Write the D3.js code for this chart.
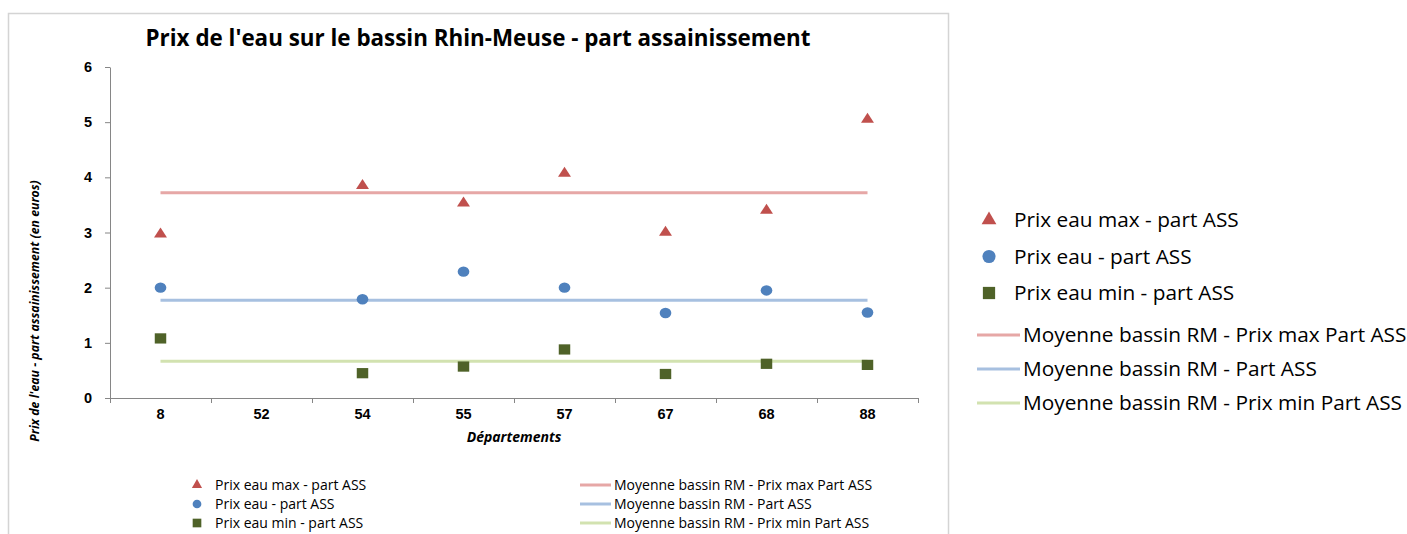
<!DOCTYPE html>
<html>
<head>
<meta charset="utf-8">
<script src="https://cdn.jsdelivr.net/npm/d3@7"></script>
<style>
  body { margin: 0; background: #fff; }
  svg { font-family: "Open Sans", "Liberation Sans", sans-serif; }
  .axis path, .axis line { stroke: #868686; }
  .axis text { font-weight: bold; font-size: 14.5px; fill: #000; }
</style>
</head>
<body>
<script>
//departements on the x axis
var departements = ["8", "52", "54", "55", "57", "67", "68", "88"];
//series values (null = no value for 52)
var prixMax = [2.97, null, 3.85, 3.53, 4.07, 3.0, 3.4, 5.05];
var prixEau = [2.0, null, 1.79, 2.29, 2.0, 1.54, 1.95, 1.55];
var prixMin = [1.08, null, 0.45, 0.57, 0.88, 0.435, 0.62, 0.6];
//basin averages
var moyenneMax = 3.72,
    moyenneEau = 1.77,
    moyenneMin = 0.665;
var yTicks = [0, 1, 2, 3, 4, 5, 6];

var pointNames = ["Prix eau max - part ASS", "Prix eau - part ASS", "Prix eau min - part ASS"];
var lineNames = ["Moyenne bassin RM - Prix max Part ASS", "Moyenne bassin RM - Part ASS", "Moyenne bassin RM - Prix min Part ASS"];

var markerColors = ["#C0504D", "#4F81BD", "#4F6228"];
var lineColors = ["#E6A7A6", "#A7C0E0", "#D2E2B0"];
var symbols = [d3.symbolTriangle, d3.symbolCircle, d3.symbolSquare];

var width = 1407, height = 534;
var plotLeft = 110, plotRight = 918, plotTop = 67, plotBottom = 398;

var svg = d3.select("body").append("svg")
    .attr("width", width)
    .attr("height", height);

//chart frame
svg.append("rect")
    .attr("x", 8.5).attr("y", 13.5)
    .attr("width", 940).attr("height", 540)
    .attr("fill", "#fff")
    .attr("stroke", "#d4d4d4")
    .attr("stroke-width", 1.5);

//title
svg.append("text")
    .attr("x", 478).attr("y", 46)
    .attr("text-anchor", "middle")
    .attr("font-weight", "bold")
    .attr("font-size", "22.4px")
    .text("Prix de l'eau sur le bassin Rhin-Meuse - part assainissement");

var x = d3.scaleBand()
    .domain(departements)
    .range([plotLeft, plotRight]);

var y = d3.scaleLinear()
    .domain([0, 6])
    .range([plotBottom, plotTop]);

//y axis
svg.append("g")
    .attr("class", "axis")
    .attr("transform", "translate(" + plotLeft + ",0)")
    .call(d3.axisLeft(y).tickValues(yTicks).tickFormat(d3.format("d")).tickSize(5).tickPadding(13).tickSizeOuter(0));

//x axis boundary ticks
var xb = d3.scaleLinear().domain([0, departements.length]).range([plotLeft, plotRight]);
svg.append("g")
    .attr("class", "axis")
    .attr("transform", "translate(0," + plotBottom + ")")
    .call(d3.axisBottom(xb).ticks(departements.length).tickFormat("").tickSize(5).tickSizeOuter(5));

//x axis labels
svg.append("g")
    .attr("class", "axis")
    .attr("transform", "translate(0," + plotBottom + ")")
    .call(d3.axisBottom(x).tickSize(0).tickPadding(11))
    .call(function(g){ g.select(".domain").remove(); });

//axis titles
svg.append("text")
    .attr("x", 514).attr("y", 442)
    .attr("text-anchor", "middle")
    .attr("font-weight", "bold")
    .attr("font-style", "italic")
    .attr("font-size", "14px")
    .text("Départements");

svg.append("text")
    .attr("transform", "translate(39,311) rotate(-90)")
    .attr("text-anchor", "middle")
    .attr("font-weight", "bold")
    .attr("font-style", "italic")
    .attr("font-size", "12.3px")
    .text("Prix de l'eau - part assainissement (en euros)");

//average lines
var averages = [moyenneMax, moyenneEau, moyenneMin];
var x0 = x(departements[0]) + x.bandwidth() / 2,
    x1 = x(departements[departements.length - 1]) + x.bandwidth() / 2;
svg.selectAll(".avg")
    .data(averages)
    .enter()
    .append("line")
    .attr("class", "avg")
    .attr("x1", x0).attr("x2", x1)
    .attr("y1", function(d){ return y(d); })
    .attr("y2", function(d){ return y(d); })
    .attr("stroke", function(d, i){ return lineColors[i]; })
    .attr("stroke-width", 3);

//points
var series = [prixMax, prixEau, prixMin];
var symSizes = [58, 85, 105];
series.forEach(function(values, s){
    var pts = values.map(function(v, i){ return { dep: departements[i], v: v }; })
        .filter(function(d){ return d.v !== null; });
    svg.selectAll(".pt" + s)
        .data(pts)
        .enter()
        .append("path")
        .attr("class", "pt" + s)
        .attr("d", d3.symbol().type(symbols[s]).size(symSizes[s]))
        .attr("transform", function(d){
            return "translate(" + (x(d.dep) + x.bandwidth() / 2) + "," + y(d.v) + ") scale(1.12,1)";
        })
        .attr("fill", markerColors[s]);
});

//legend block: three marker entries then three line entries
function legend(g, ox, oy, dy, fs, msizes, lineLen, gap){
    pointNames.forEach(function(name, i){
        g.append("path")
            .attr("d", d3.symbol().type(symbols[i]).size(msizes[i]))
            .attr("transform", "translate(" + ox.m + "," + (oy.m + i * dy.m) + ")")
            .attr("fill", markerColors[i]);
        g.append("text")
            .attr("x", ox.t).attr("y", oy.m + i * dy.m)
            .attr("dy", "0.35em")
            .attr("font-size", fs)
            .text(name);
    });
    lineNames.forEach(function(name, i){
        g.append("line")
            .attr("x1", ox.l).attr("x2", ox.l + lineLen)
            .attr("y1", oy.l + i * dy.l).attr("y2", oy.l + i * dy.l)
            .attr("stroke", lineColors[i])
            .attr("stroke-width", 3);
        g.append("text")
            .attr("x", ox.l + lineLen + gap).attr("y", oy.l + i * dy.l)
            .attr("dy", "0.35em")
            .attr("font-size", fs)
            .text(name);
    });
}

//bottom legend (inside chart)
legend(svg.append("g"),
    { m: 197, t: 215, l: 580 },
    { m: 485, l: 485 },
    { m: 19, l: 19 },
    "14px", [45, 60, 75], 31, 3);

//right legend
legend(svg.append("g"),
    { m: 989, t: 1014, l: 977 },
    { m: 220, l: 335 },
    { m: 36.5, l: 34 },
    "20.8px", [95, 135, 150], 43, 3);
</script>
</body>
</html>
